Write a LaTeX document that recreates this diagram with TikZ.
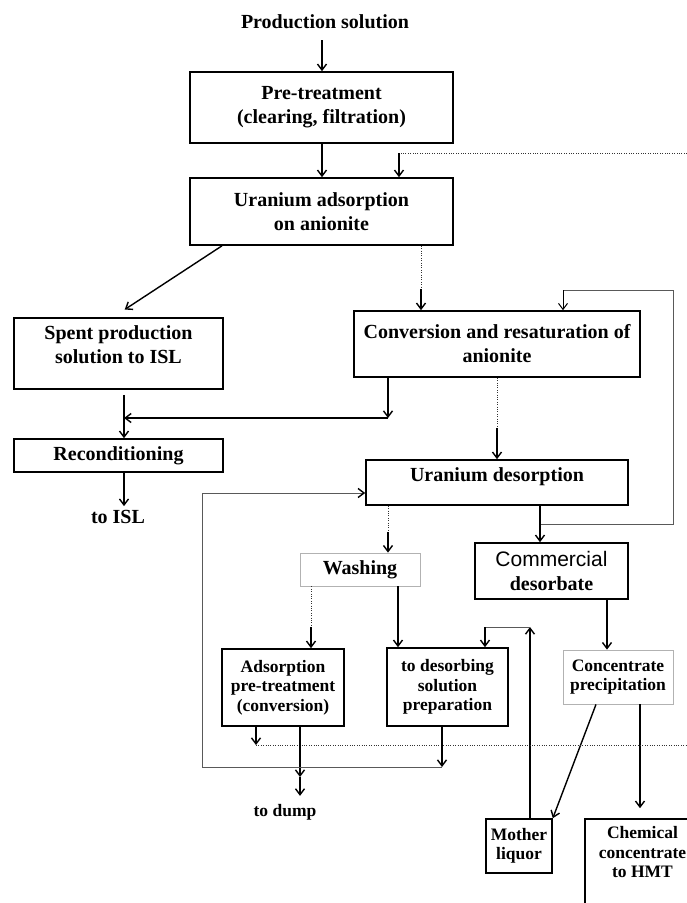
\documentclass[tikz,border=0pt]{standalone}
\usepackage{fontspec}
\setmainfont{Liberation Serif}
\newfontfamily\arialfont{Liberation Sans}
\usetikzlibrary{arrows.meta}

\newcommand{\bigtxt}{\fontsize{20}{24}\selectfont\bfseries}
\newcommand{\smalltxt}{\fontsize{17.5}{19.5}\selectfont\bfseries}

\begin{document}
\begin{tikzpicture}[x=1pt,y=-1pt]
\tikzstyle{every node}+=[inner sep=0pt]
\tikzstyle{box}=[draw,line width=1.6pt,align=center,font=\bigtxt]
\tikzstyle{smallbox}=[box,font=\smalltxt]
\tikzstyle{greybox}=[draw=gray!60,line width=0.8pt,align=center]
\tikzstyle{arr}=[line width=1.4pt,-{Straight Barb[length=6pt,width=9pt]}]
\tikzstyle{dotline}=[black!80,line width=0.8pt,dash pattern=on 0.8pt off 1.6pt]
\tikzstyle{ret}=[draw=gray!70!black,line width=0.7pt]
\tikzstyle{retarr}=[ret,-{Straight Barb[length=6pt,width=9pt,black,line width=1.4pt]}]
\useasboundingbox (0,0) rectangle (687,903);
\node[font=\bigtxt] (src) at (325,22) {Production solution};
\node[box,minimum width=263pt,minimum height=71pt] (pre) at (321.5,107.5) {Pre-treatment\\(clearing, filtration)};
\node[box,minimum width=263pt,minimum height=67pt] (ads) at (321.5,211.5) {Uranium adsorption\\on anionite};
\node[box,minimum width=209pt,minimum height=71pt] (spent) at (118.5,353.5) {Spent production\\solution to ISL\\[-7pt]\mbox{}};
\node[box,minimum width=286pt,minimum height=66pt] (conv) at (497,344) {Conversion and resaturation of\\anionite};
\node[box,minimum width=209pt,minimum height=33pt] (recon) at (118.5,455.5) {Reconditioning};
\node[font=\bigtxt] (isl) at (118,517) {to ISL};
\node[box,minimum width=262pt,minimum height=45pt,text depth=15pt] (desorp) at (497,482.5) {Uranium desorption};
\node[greybox,font=\bigtxt,minimum width=120pt,minimum height=33pt] (wash) at (360,569.5) {Washing};
\node[box,minimum width=153pt,minimum height=56pt,font=\fontsize{20}{23.5}\selectfont\bfseries] (comm) at (551.5,571) {{\arialfont\mdseries\fontsize{21}{23.5}\selectfont Commercial}\\desorbate};
\node[smallbox,minimum width=122pt,minimum height=77pt] (adsp) at (283,687.5) {Adsorption\\pre-treatment\\(conversion)};
\node[smallbox,minimum width=121pt,minimum height=78pt] (todes) at (447.5,687) {to desorbing\\solution\\preparation};
\node[greybox,font=\smalltxt,minimum width=110pt,minimum height=54pt] (conc) at (618,677) {Concentrate\\precipitation};
\node[font=\smalltxt] (dump) at (285,812) {to dump};
\node[smallbox,minimum width=66pt,minimum height=54pt] (mother) at (519,846) {Mother\\liquor};
\node[smallbox,minimum width=115pt,minimum height=91pt] (chem) at (642.5,864.5) {Chemical\\concentrate\\to HMT\\[5pt]\mbox{}};
\coordinate (rim1) at (687,153);
\coordinate (feed) at (399,153);
\coordinate (c1) at (421,289);
\coordinate (split) at (540,524);
\coordinate (join) at (388,418);
\coordinate (c2) at (497,428);
\coordinate (c3) at (388,532);
\coordinate (c4) at (311,627);
\coordinate (mtop) at (530,627);
\coordinate (back) at (202,767);
\coordinate (rim2) at (687,745);
\draw[arr] (src.south) ++(-3,11) -- (322,0 |- pre.north);
\draw[arr] (322,0 |- pre.south) -- (322,0 |- ads.north);
\draw[dotline] (rim1) -- (feed);
\draw[arr] (feed) -- (feed |- ads.north);
\draw[arr,shorten >=14pt] (222,0 |- ads.south) -- (113,0 |- spent.north);
\draw[dotline] (421,0 |- ads.south) -- (c1);
\draw[arr] (c1) -- (c1 |- conv.north);
\draw[ret] (split) -| (673,290) -- (563,290);
\draw[arr,line width=1pt] (563,290) -- (563,0 |- conv.north);
\draw[arr] (388,0 |- conv.south) -- (join);
\draw[arr] (join) -- (124,0 |- join);
\draw[arr,shorten <=5pt] (124,0 |- spent.south) -- (124,0 |- recon.north);
\draw[arr,shorten >=4pt] (124,0 |- recon.south) -- (124,0 |- isl.north);
\draw[dotline] (497,0 |- conv.south) -- (c2);
\draw[arr] (c2) -- (desorp.north);
\draw[arr] (540,0 |- desorp.south) -- (540,0 |- comm.north);
\draw[dotline] (388,0 |- desorp.south) -- (c3);
\draw[arr] (c3) -- (c3 |- wash.north);
\draw[dotline] (311,0 |- wash.south) -- (c4);
\draw[arr] (c4) -- (c4 |- adsp.north);
\draw[arr] (398,0 |- wash.south) -- (398,0 |- todes.north);
\draw[arr] (607,0 |- comm.south) -- (607,0 |- conc.north);
\draw[arr] (596,0 |- conc.south) -- (mother.north east);
\draw[arr,shorten >=10pt] (640,0 |- conc.south) -- (640,0 |- chem.north);
\draw[arr] (530,0 |- mother.north) -- (mtop);
\draw[ret] (mtop) -- (485,627);
\draw[arr] (485,627) -- (485,0 |- todes.north);
\draw[arr] (256,0 |- adsp.south) -- (256,745);
\draw[dotline] (256,745) -- (rim2);
\draw[arr] (300,0 |- adsp.south) -- (300,777);
\draw[arr,shorten >=8pt] (300,777) -- (300,0 |- dump.north);
\draw[arr] (442,0 |- todes.south) -- (back -| 442,0);
\draw[retarr] (442,767) -- (back) -- (202,493) -- (desorp.west |- 0,493);
\end{tikzpicture}
\end{document}
